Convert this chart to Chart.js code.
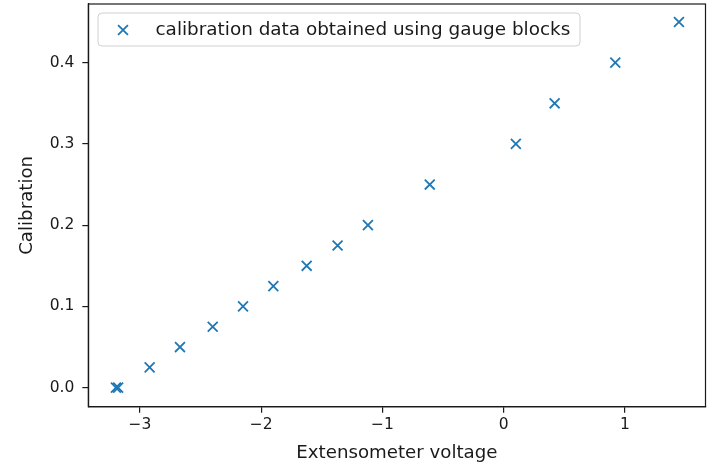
<!DOCTYPE html>
<html>
<head>
<meta charset="utf-8">
<script src="https://cdn.jsdelivr.net/npm/chart.js@4/dist/chart.umd.min.js"></script>
<style>
  html, body { margin: 0; padding: 0; background: #ffffff; }
  canvas { display: block; }
</style>
</head>
<body>
<canvas id="c" width="709" height="465"></canvas>
<script>
// ---- data ----
const seriesLabel = 'calibration data obtained using gauge blocks';
const voltage = [-3.198, -3.180, -2.92, -2.67, -2.40, -2.15, -1.90, -1.625, -1.37, -1.12, -0.61, 0.10, 0.42, 0.92, 1.445];
const calibration = [0.0, 0.0, 0.025, 0.05, 0.075, 0.1, 0.125, 0.15, 0.175, 0.2, 0.25, 0.3, 0.35, 0.4, 0.45];
const xTicks = [-3, -2, -1, 0, 1];
const yTicks = [0.0, 0.1, 0.2, 0.3, 0.4];
const xTitle = 'Extensometer voltage';
const yTitle = 'Calibration';
const xRange = [-3.426, 1.664];
const yRange = [-0.0234, 0.4722];

const BLUE = '#1f77b4';
const INK = '#1a1a1a';
const FONT = "'DejaVu Sans', sans-serif";

const points = voltage.map((v, i) => ({ x: v, y: calibration[i] }));

const framePlugin = {
  id: 'frame',
  afterDatasetsDraw(chart) {
    const { ctx, chartArea: a } = chart;
    ctx.save();
    ctx.strokeStyle = INK;
    ctx.lineWidth = 1.2;
    ctx.strokeRect(a.left, a.top, a.right - a.left, a.bottom - a.top);
    ctx.restore();
  }
};

const legendPlugin = {
  id: 'boxLegend',
  afterDraw(chart) {
    const { ctx } = chart;
    const ds = chart.data.datasets[0];
    const x0 = 98, y0 = 13, w = 482, h = 33, r = 4;
    ctx.save();
    ctx.beginPath();
    ctx.moveTo(x0 + r, y0);
    ctx.lineTo(x0 + w - r, y0);
    ctx.arcTo(x0 + w, y0, x0 + w, y0 + r, r);
    ctx.lineTo(x0 + w, y0 + h - r);
    ctx.arcTo(x0 + w, y0 + h, x0 + w - r, y0 + h, r);
    ctx.lineTo(x0 + r, y0 + h);
    ctx.arcTo(x0, y0 + h, x0, y0 + h - r, r);
    ctx.lineTo(x0, y0 + r);
    ctx.arcTo(x0, y0, x0 + r, y0, r);
    ctx.closePath();
    ctx.fillStyle = 'rgba(255,255,255,0.8)';
    ctx.fill();
    ctx.strokeStyle = '#d0d0d0';
    ctx.lineWidth = 1;
    ctx.stroke();
    ctx.strokeStyle = BLUE;
    ctx.lineWidth = ds.pointBorderWidth;
    Chart.helpers.drawPoint(ctx, { pointStyle: 'crossRot', radius: ds.pointRadius, rotation: 0, borderWidth: ds.pointBorderWidth }, 123, 30);
    ctx.fillStyle = INK;
    ctx.font = '18.4px ' + FONT;
    ctx.textBaseline = 'middle';
    ctx.textAlign = 'left';
    ctx.fillText(ds.label, 155.5, 30);
    ctx.restore();
  }
};

new Chart(document.getElementById('c'), {
  type: 'scatter',
  data: {
    datasets: [{
      label: seriesLabel,
      data: points,
      pointStyle: 'crossRot',
      pointRadius: 7,
      pointHoverRadius: 7,
      pointBorderWidth: 1.8,
      borderColor: BLUE,
      backgroundColor: BLUE,
      showLine: false
    }]
  },
  options: {
    responsive: false,
    animation: false,
    events: [],
    layout: { autoPadding: false, padding: { left: 0, right: 3.5, top: 4, bottom: 0 } },
    plugins: {
      legend: { display: false },
      tooltip: { enabled: false }
    },
    scales: {
      x: {
        type: 'linear',
        min: xRange[0],
        max: xRange[1],
        afterBuildTicks: (s) => { s.ticks = xTicks.map(v => ({ value: v })); },
        afterFit: (s) => { s.height = 58.3; s.paddingLeft = 0; s.paddingRight = 0; s.paddingTop = 0; s.paddingBottom = 0; },
        grid: { drawOnChartArea: false, drawTicks: true, tickLength: 6, color: INK, lineWidth: 1.2 },
        border: { display: true, color: INK, width: 1.2 },
        ticks: {
          color: INK, font: { family: FONT, size: 15.5 }, padding: 3, maxRotation: 0,
          callback: (v) => v < 0 ? '\u2212' + Math.abs(v) : String(v)
        },
        title: { display: true, text: xTitle, color: INK, font: { family: FONT, size: 18.2 }, padding: { top: 0, bottom: 1 } }
      },
      y: {
        type: 'linear',
        min: yRange[0],
        max: yRange[1],
        afterBuildTicks: (s) => { s.ticks = yTicks.map(v => ({ value: v })); },
        afterFit: (s) => { s.width = 88.3; s.paddingLeft = 0; s.paddingRight = 0; s.paddingTop = 0; s.paddingBottom = 0; },
        grid: { drawOnChartArea: false, drawTicks: true, tickLength: 6, color: INK, lineWidth: 1.2 },
        border: { display: true, color: INK, width: 1.2 },
        ticks: {
          color: INK, font: { family: FONT, size: 15.5 }, padding: 8,
          callback: (v) => Number(v).toFixed(1)
        },
        title: { display: true, text: yTitle, color: INK, font: { family: FONT, size: 18.2 }, padding: { top: 16, bottom: 0 } }
      }
    }
  },
  plugins: [framePlugin, legendPlugin]
});
</script>
</body>
</html>
